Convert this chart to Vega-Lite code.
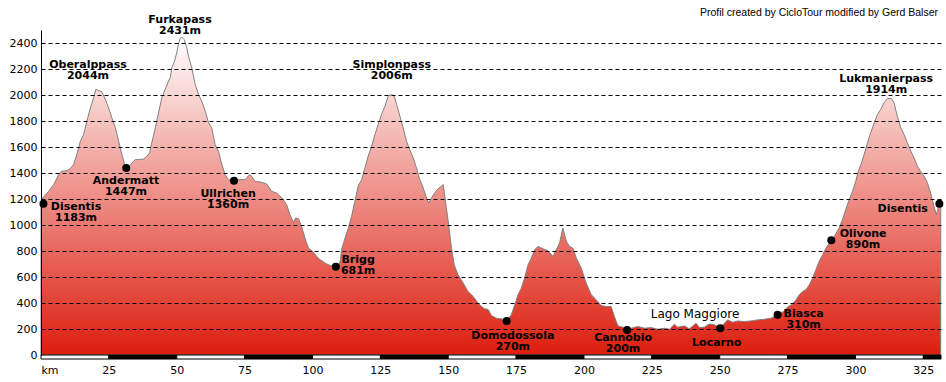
{
  "$schema": "https://vega.github.io/schema/vega-lite/v6.json",
  "width": 900,
  "height": 325,
  "autosize": {"type": "none"},
  "padding": {"left": 41, "top": 30, "right": 5, "bottom": 27},
  "background": "white",
  "config": {"view": {"stroke": null}},
  "datasets": {
    "profile": [
      {"km":0,"elev":1165},{"km":0.6,"elev":1208},{"km":2.8,"elev":1259},{"km":4.7,"elev":1311},{"km":6.5,"elev":1388},{"km":7.5,"elev":1413},{"km":9.6,"elev":1418},{"km":10.8,"elev":1434},{"km":12.0,"elev":1465},{"km":13.2,"elev":1542},{"km":14.5,"elev":1645},{"km":15.7,"elev":1696},{"km":16.9,"elev":1799},{"km":18.2,"elev":1901},{"km":19.4,"elev":1979},{"km":20.2,"elev":2043},{"km":21.2,"elev":2035},{"km":22.4,"elev":2025},{"km":23.7,"elev":1966},{"km":24.9,"elev":1901},{"km":26.1,"elev":1824},{"km":27.4,"elev":1747},{"km":28.6,"elev":1645},{"km":29.8,"elev":1542},{"km":30.8,"elev":1465},{"km":31.4,"elev":1439},{"km":32.3,"elev":1444},{"km":33.5,"elev":1478},{"km":34.7,"elev":1503},{"km":35.9,"elev":1503},{"km":37.8,"elev":1508},{"km":39.0,"elev":1529},{"km":40.0,"elev":1555},{"km":40.8,"elev":1632},{"km":42.1,"elev":1747},{"km":43.3,"elev":1863},{"km":44.5,"elev":1979},{"km":45.7,"elev":2043},{"km":47.0,"elev":2107},{"km":47.6,"elev":2133},{"km":48.2,"elev":2210},{"km":49.2,"elev":2261},{"km":50.0,"elev":2325},{"km":50.6,"elev":2390},{"km":51.3,"elev":2436},{"km":51.9,"elev":2446},{"km":52.7,"elev":2428},{"km":53.7,"elev":2364},{"km":54.3,"elev":2300},{"km":55.5,"elev":2210},{"km":56.8,"elev":2081},{"km":58.0,"elev":2004},{"km":59.2,"elev":1953},{"km":60.5,"elev":1876},{"km":61.7,"elev":1786},{"km":62.9,"elev":1747},{"km":64.1,"elev":1619},{"km":65.4,"elev":1567},{"km":66.6,"elev":1465},{"km":67.8,"elev":1388},{"km":69.0,"elev":1349},{"km":71.1,"elev":1341},{"km":72.7,"elev":1349},{"km":75.2,"elev":1349},{"km":76.8,"elev":1388},{"km":77.6,"elev":1375},{"km":78.8,"elev":1336},{"km":80.7,"elev":1331},{"km":83.1,"elev":1316},{"km":85.0,"elev":1259},{"km":86.8,"elev":1246},{"km":88.7,"elev":1208},{"km":90.5,"elev":1156},{"km":91.7,"elev":1079},{"km":93.0,"elev":1020},{"km":93.8,"elev":1054},{"km":94.8,"elev":1049},{"km":96.0,"elev":989},{"km":97.2,"elev":900},{"km":98.5,"elev":823},{"km":100.3,"elev":792},{"km":102.1,"elev":745},{"km":104.6,"elev":707},{"km":106.4,"elev":689},{"km":108.6,"elev":679},{"km":109.6,"elev":694},{"km":110.2,"elev":720},{"km":110.7,"elev":810},{"km":112.0,"elev":900},{"km":113.2,"elev":977},{"km":114.4,"elev":1067},{"km":115.6,"elev":1182},{"km":116.8,"elev":1298},{"km":118.1,"elev":1349},{"km":119.3,"elev":1439},{"km":120.5,"elev":1529},{"km":121.8,"elev":1606},{"km":123.0,"elev":1696},{"km":124.2,"elev":1773},{"km":125.4,"elev":1850},{"km":126.7,"elev":1914},{"km":127.9,"elev":1991},{"km":129.1,"elev":2004},{"km":130.1,"elev":1991},{"km":131.0,"elev":1927},{"km":132.2,"elev":1837},{"km":133.4,"elev":1747},{"km":134.6,"elev":1645},{"km":135.8,"elev":1580},{"km":137.1,"elev":1516},{"km":138.3,"elev":1439},{"km":139.5,"elev":1349},{"km":140.8,"elev":1285},{"km":142.0,"elev":1208},{"km":142.8,"elev":1169},{"km":143.8,"elev":1208},{"km":145.0,"elev":1246},{"km":146.3,"elev":1280},{"km":147.5,"elev":1298},{"km":148.1,"elev":1311},{"km":148.5,"elev":1259},{"km":149.3,"elev":1131},{"km":150.0,"elev":1028},{"km":151.2,"elev":822},{"km":152.2,"elev":694},{"km":153.6,"elev":617},{"km":155.5,"elev":553},{"km":157.3,"elev":488},{"km":159.2,"elev":450},{"km":161.0,"elev":399},{"km":162.2,"elev":373},{"km":163.4,"elev":355},{"km":164.7,"elev":350},{"km":165.9,"elev":304},{"km":167.7,"elev":283},{"km":169.6,"elev":278},{"km":171.5,"elev":262},{"km":173.2,"elev":308},{"km":174.5,"elev":386},{"km":175.7,"elev":463},{"km":176.9,"elev":514},{"km":178.1,"elev":591},{"km":179.4,"elev":694},{"km":180.6,"elev":745},{"km":181.8,"elev":810},{"km":183.1,"elev":835},{"km":184.9,"elev":817},{"km":186.7,"elev":802},{"km":188.6,"elev":758},{"km":189.8,"elev":810},{"km":191.0,"elev":861},{"km":192.2,"elev":977},{"km":193.5,"elev":874},{"km":194.7,"elev":835},{"km":195.9,"elev":822},{"km":197.2,"elev":745},{"km":199.0,"elev":668},{"km":200.8,"elev":553},{"km":202.7,"elev":463},{"km":204.5,"elev":424},{"km":206.3,"elev":381},{"km":208.2,"elev":373},{"km":210.0,"elev":373},{"km":211.2,"elev":296},{"km":212.5,"elev":224},{"km":214.3,"elev":214},{"km":215.9,"elev":193},{"km":217.4,"elev":206},{"km":219.8,"elev":219},{"km":222.3,"elev":206},{"km":224.7,"elev":211},{"km":227.2,"elev":198},{"km":229.6,"elev":206},{"km":231.5,"elev":198},{"km":233.3,"elev":237},{"km":234.5,"elev":214},{"km":237.0,"elev":224},{"km":238.8,"elev":201},{"km":241.3,"elev":244},{"km":242.5,"elev":211},{"km":244.3,"elev":214},{"km":246.2,"elev":239},{"km":248.0,"elev":232},{"km":250.2,"elev":206},{"km":251.7,"elev":244},{"km":252.9,"elev":270},{"km":254.8,"elev":252},{"km":256.6,"elev":262},{"km":259.1,"elev":257},{"km":261.5,"elev":262},{"km":263.9,"elev":270},{"km":266.4,"elev":275},{"km":268.9,"elev":283},{"km":271.3,"elev":309},{"km":273.8,"elev":339},{"km":275.0,"elev":370},{"km":276.8,"elev":391},{"km":278.1,"elev":424},{"km":279.3,"elev":463},{"km":280.5,"elev":488},{"km":281.7,"elev":501},{"km":283.0,"elev":540},{"km":284.2,"elev":591},{"km":285.4,"elev":655},{"km":286.6,"elev":720},{"km":287.9,"elev":771},{"km":289.1,"elev":822},{"km":291.1,"elev":882},{"km":292.2,"elev":912},{"km":294.0,"elev":977},{"km":295.2,"elev":1041},{"km":296.4,"elev":1118},{"km":297.7,"elev":1195},{"km":298.9,"elev":1259},{"km":300.1,"elev":1336},{"km":301.0,"elev":1413},{"km":302.0,"elev":1465},{"km":303.2,"elev":1542},{"km":304.4,"elev":1632},{"km":305.6,"elev":1709},{"km":306.9,"elev":1786},{"km":308.1,"elev":1850},{"km":309.3,"elev":1889},{"km":310.5,"elev":1940},{"km":311.8,"elev":1973},{"km":313.2,"elev":1973},{"km":314.2,"elev":1940},{"km":315.4,"elev":1837},{"km":316.7,"elev":1747},{"km":317.9,"elev":1696},{"km":319.1,"elev":1632},{"km":320.4,"elev":1568},{"km":321.6,"elev":1516},{"km":322.8,"elev":1452},{"km":324.0,"elev":1413},{"km":325.3,"elev":1375},{"km":326.5,"elev":1325},{"km":327.7,"elev":1246},{"km":328.9,"elev":1144},{"km":329.8,"elev":1079},{"km":330.8,"elev":1156},{"km":331.4,"elev":1164}
    ],
    "places": [
      {"km":0.9,"elev":1164},{"km":31.4,"elev":1439},{"km":71.1,"elev":1341},{"km":108.6,"elev":679},{"km":171.5,"elev":262},{"km":215.9,"elev":193},{"km":250.2,"elev":206},{"km":271.3,"elev":309},{"km":291.1,"elev":882},{"km":330.9,"elev":1164}
    ],
    "labels": [
      {"km":17.3,"elev":2208,"text":"Oberalppass\n2044m"},
      {"km":51.2,"elev":2554,"text":"Furkapass\n2431m"},
      {"km":31.3,"elev":1313,"text":"Andermatt\n1447m"},
      {"km":68.9,"elev":1218,"text":"Ullrichen\n1360m"},
      {"km":12.9,"elev":1118,"text":"Disentis\n1183m"},
      {"km":129.2,"elev":2208,"text":"Simplonpass\n2006m"},
      {"km":116.8,"elev":705,"text":"Brigg\n681m"},
      {"km":173.8,"elev":121,"text":"Domodossola\n270m"},
      {"km":214.4,"elev":105,"text":"Cannobio\n200m"},
      {"km":248.9,"elev":67,"text":"Locarno"},
      {"km":280.9,"elev":290,"text":"Biasca\n310m"},
      {"km":302.8,"elev":908,"text":"Olivone\n890m"},
      {"km":317.4,"elev":1102,"text":"Disentis"},
      {"km":311.3,"elev":2102,"text":"Lukmanierpass\n1914m"}
    ],
    "notes": [
      {"km":240.9,"elev":285,"text":"Lago Maggiore"}
    ],
    "credit": [
      {"km":330.4,"elev":2608,"text":"Profil created by CicloTour modified by Gerd Balser"}
    ],
    "band": [
      {"a":0,"b":25,"shade":"light"},{"a":25,"b":50,"shade":"dark"},{"a":50,"b":75,"shade":"light"},{"a":75,"b":100,"shade":"dark"},{"a":100,"b":125,"shade":"light"},{"a":125,"b":150,"shade":"dark"},{"a":150,"b":175,"shade":"light"},{"a":175,"b":200,"shade":"dark"},{"a":200,"b":225,"shade":"light"},{"a":225,"b":250,"shade":"dark"},{"a":250,"b":275,"shade":"light"},{"a":275,"b":300,"shade":"dark"},{"a":300,"b":325,"shade":"light"},{"a":325,"b":331.5,"shade":"dark"}
    ]
  },
  "layer": [
    {
      "data": {"name": "profile"},
      "mark": {
        "type": "area",
        "fill": {"gradient": "linear", "x1": 0, "y1": 0, "x2": 0, "y2": 1,
          "stops": [{"offset": 0, "color": "#ffffff"}, {"offset": 1, "color": "#dc1e0e"}]},
        "stroke": "#808080",
        "strokeWidth": 1
      },
      "encoding": {
        "x": {"field": "km", "type": "quantitative",
          "scale": {"domain": [0, 331.5], "nice": false, "zero": false},
          "axis": {"title": null, "values": [0,25,50,75,100,125,150,175,200,225,250,275,300,325],
            "labelExpr": "datum.value == 0 ? 'km' : datum.label",
            "labelFlush": true, "labelOverlap": false, "grid": false, "domain": false, "ticks": false, "tickSize": 0,
            "labelPadding": 9, "labelFont": "DejaVu Sans", "labelFontSize": 11, "labelColor": "#000"}},
        "y": {"field": "elev", "type": "quantitative",
          "scale": {"domain": [0, 2500], "nice": false},
          "axis": {"title": null, "values": [0,200,400,600,800,1000,1200,1400,1600,1800,2000,2200,2400],
            "format": "d", "labelOverlap": false, "tickCount": 13,
            "grid": true, "gridColor": "#000", "gridDash": [4, 3], "gridWidth": 1,
            "gridOpacity": {"condition": {"test": "datum.value == 0", "value": 0}, "value": 1},
            "domain": true, "domainColor": "#000", "domainWidth": 1,
            "ticks": false, "tickSize": 0, "labelPadding": 4,
            "labelFont": "DejaVu Sans", "labelFontSize": 11, "labelColor": "#000", "zindex": 1}}
      }
    },
    {
      "data": {"name": "band"},
      "mark": {"type": "rect", "stroke": "#000", "strokeWidth": 1},
      "encoding": {
        "x": {"field": "a", "type": "quantitative"},
        "x2": {"field": "b"},
        "y": {"datum": 0},
        "y2": {"datum": -31},
        "fill": {"field": "shade", "type": "nominal", "scale": {"domain": ["light", "dark"], "range": ["#ffffff", "#000000"]}, "legend": null}
      }
    },
    {
      "data": {"name": "places"},
      "mark": {"type": "circle", "size": 64, "color": "#000", "opacity": 1},
      "encoding": {
        "x": {"field": "km", "type": "quantitative"},
        "y": {"field": "elev", "type": "quantitative"}
      }
    },
    {
      "data": {"name": "labels"},
      "mark": {"type": "text", "font": "DejaVu Sans", "fontSize": 11, "fontWeight": "bold", "lineBreak": "\n", "lineHeight": 11, "align": "center", "baseline": "alphabetic", "color": "#000"},
      "encoding": {
        "x": {"field": "km", "type": "quantitative"},
        "y": {"field": "elev", "type": "quantitative"},
        "text": {"field": "text"}
      }
    },
    {
      "data": {"name": "notes"},
      "mark": {"type": "text", "font": "DejaVu Sans", "fontSize": 12, "fontWeight": "normal", "align": "center", "baseline": "alphabetic", "color": "#000"},
      "encoding": {
        "x": {"field": "km", "type": "quantitative"},
        "y": {"field": "elev", "type": "quantitative"},
        "text": {"field": "text"}
      }
    },
    {
      "data": {"name": "credit"},
      "mark": {"type": "text", "font": "Liberation Sans", "fontSize": 10.5, "fontWeight": "normal", "align": "right", "baseline": "alphabetic", "color": "#000"},
      "encoding": {
        "x": {"field": "km", "type": "quantitative"},
        "y": {"field": "elev", "type": "quantitative"},
        "text": {"field": "text"}
      }
    }
  ]
}
